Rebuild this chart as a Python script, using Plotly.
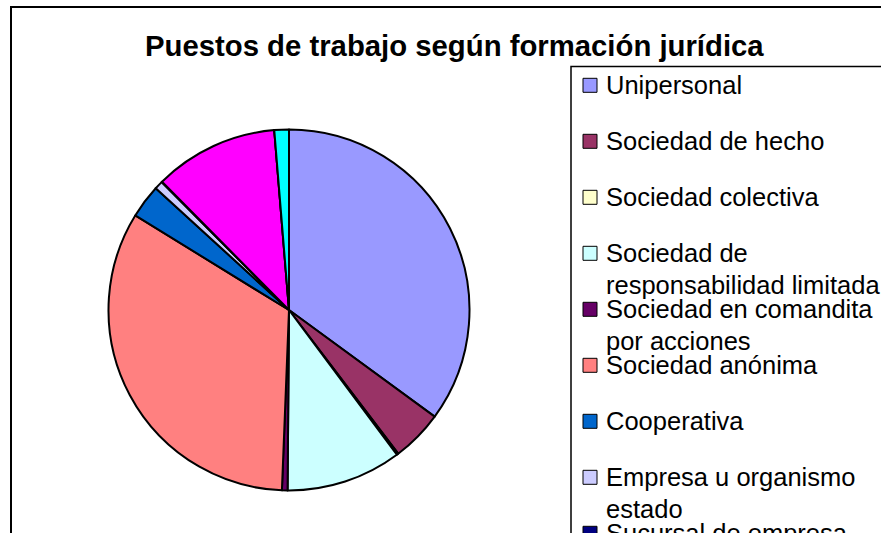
import plotly.graph_objects as go

W, H = 881, 533

categories = [
    "Unipersonal",
    "Sociedad de hecho",
    "Sociedad colectiva",
    "Sociedad de responsabilidad limitada",
    "Sociedad en comandita por acciones",
    "Sociedad anónima",
    "Cooperativa",
    "Empresa u organismo estado",
    "Sucursal de empresa extranjera",
    "Otras sociedades",
    "Sociedad de economía mixta",
    "Otras formas jurídicas",
]
values = [35.0, 4.6, 0.15, 10.3, 0.5, 33.1, 3.0, 0.75, 0.05, 11.1, 0.0, 1.3]
colors = ["#9999FF", "#993366", "#FFFFCC", "#CCFFFF", "#660066", "#FF8080",
          "#0066CC", "#CCCCFF", "#000080", "#FF00FF", "#FFFF00", "#00FFFF"]
legend_lines = [
    ["Unipersonal"],
    ["Sociedad de hecho"],
    ["Sociedad colectiva"],
    ["Sociedad de", "responsabilidad limitada"],
    ["Sociedad en comandita", "por acciones"],
    ["Sociedad anónima"],
    ["Cooperativa"],
    ["Empresa u organismo", "estado"],
    ["Sucursal de empresa", "extranjera"],
    ["Otras sociedades"],
    ["Sociedad de economía", "mixta"],
    ["Otras formas jurídicas"],
]
title = "Puestos de trabajo según formación jurídica"

FONT = "Arial, Liberation Sans, sans-serif"

def px(x):
    return x / W

def py(y):
    return 1 - y / H

# pie geometry (pixels)
cx, cy, r = 289, 310, 180.5

fig = go.Figure(go.Pie(
    labels=categories,
    values=values,
    marker=dict(colors=colors, line=dict(color="black", width=2)),
    sort=False,
    direction="clockwise",
    rotation=0,
    textinfo="none",
    hoverinfo="label+percent",
    showlegend=False,
    domain=dict(x=[px(cx - r), px(cx + r)], y=[py(cy + r), py(cy - r)]),
))

shapes = []
annotations = []

# outer chart border
shapes.append(dict(type="rect", xref="paper", yref="paper",
                   x0=px(11), x1=px(W + 20), y0=py(H + 20), y1=py(7),
                   line=dict(color="black", width=2), fillcolor="rgba(0,0,0,0)"))
# legend box
shapes.append(dict(type="rect", xref="paper", yref="paper",
                   x0=px(571), x1=px(W + 20), y0=py(H + 20), y1=py(66.5),
                   line=dict(color="black", width=1.5), fillcolor="rgba(0,0,0,0)"))

# title
annotations.append(dict(x=px(454.5), y=py(46), xref="paper", yref="paper",
                        text="<b>" + title + "</b>", showarrow=False,
                        xanchor="center", yanchor="middle",
                        font=dict(family=FONT, size=29.3, color="black")))

# manual legend
y0, step, fs, lh = 85.3, 56, 25.5, 32
for i, (lines, col) in enumerate(zip(legend_lines, colors)):
    yc = y0 + i * step
    shapes.append(dict(type="rect", xref="paper", yref="paper",
                       x0=px(583), x1=px(597), y0=py(yc + 7), y1=py(yc - 7),
                       line=dict(color="black", width=1), fillcolor=col))
    for j, t in enumerate(lines):
        annotations.append(dict(x=px(604.5), y=py(yc + j * lh), xref="paper", yref="paper",
                                text=t, showarrow=False, xanchor="left", yanchor="middle",
                                borderpad=0,
                                font=dict(family=FONT, size=fs, color="black")))

fig.update_layout(
    width=W, height=H,
    margin=dict(l=0, r=0, t=0, b=0),
    paper_bgcolor="white", plot_bgcolor="white",
    shapes=shapes, annotations=annotations,
)

fig.write_html("out.html", config={"displayModeBar": False},
               post_script="document.body.style.margin='0';")
